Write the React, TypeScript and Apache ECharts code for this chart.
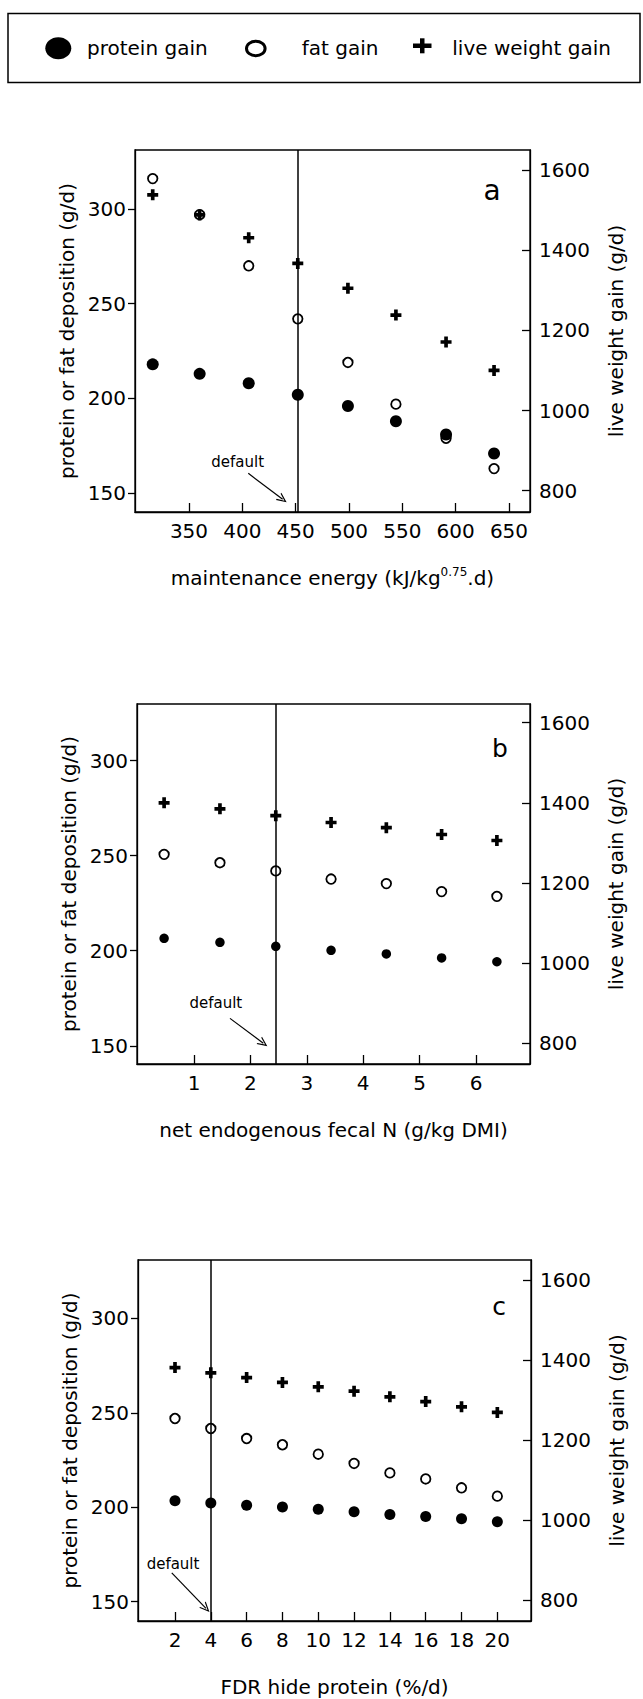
import React, { useEffect, useRef } from "react";
import * as echarts from "echarts";

// ---------- data ----------
const maintEnergy = [316, 360, 406, 452, 499, 544, 591, 636];
const aProtein = [218, 213, 208, 202, 196, 188, 181, 171];
const aFat = [316, 297, 270, 242, 219, 197, 179, 163];
const aLive = [1538, 1488, 1431, 1367, 1305, 1238, 1171, 1100];
const aDefault = 452;

const fecalN = [0.47, 1.46, 2.45, 3.43, 4.41, 5.39, 6.37];
const bProtein = [206.5, 204.4, 202.3, 200.2, 198.3, 196.2, 194.2];
const bFat = [250.7, 246.3, 242.0, 237.7, 235.3, 231.1, 228.6];
const bLive = [1400, 1385, 1368, 1351, 1338, 1321, 1306];
const bDefault = 2.45;

const fdrHide = [2, 4, 6, 8, 10, 12, 14, 16, 18, 20];
const cProtein = [203.4, 202.3, 201.1, 200.2, 199.0, 197.6, 196.2, 195.1, 193.9, 192.3];
const cFat = [247.0, 241.7, 236.4, 233.1, 228.1, 223.2, 218.2, 215.0, 210.3, 205.9];
const cLive = [1381, 1368, 1356, 1344, 1333, 1322, 1308, 1296, 1283, 1269];
const cDefault = 4;

const aXTicks = [350, 400, 450, 500, 550, 600, 650];
const bXTicks = [1, 2, 3, 4, 5, 6];
const cXTicks = [2, 4, 6, 8, 10, 12, 14, 16, 18, 20];
const leftTicks = [150, 200, 250, 300];
const rightTicks = [800, 1000, 1200, 1400, 1600];

const legendNames = ["protein gain", "fat gain", "live weight gain"];
const panelLetters = ["a", "b", "c"];
const defaultText = "default";

// ---------- layout ----------
const FONT = "DejaVu Sans";
const W = 643;
const H = 1699;
const PLUS = "path://M4,0 H8 V4 H12 V8 H8 V12 H4 V8 H0 V4 H4 Z";
const CHEVRON = "path://M0,10 L5,0 L10,10 L8.6,10 L5,2.8 L1.4,10 Z";

const panels = [
  {
    grid: { left: 135, top: 150, width: 395, height: 362 },
    x: { min: 299.4, max: 669.7, ticks: aXTicks },
    yl: { min: 140.1, max: 331.1 },
    yr: { min: 746.9, max: 1649.9 },
    xs: maintEnergy, protein: aProtein, fat: aFat, live: aLive, def: aDefault,
    name: "{t|maintenance energy (kJ/kg}{s|0.75}{t|.d)}",
    proteinSize: 12,
    textAt: [395.7, 166.3], arrowFrom: [405.6, 160.5], arrowTo: [437.8, 146.8],
    letter: { x: 492, y: 190, size: 28 },
  },
  {
    grid: { left: 137, top: 704, width: 393, height: 360 },
    x: { min: -0.0106, max: 6.957, ticks: bXTicks },
    yl: { min: 140.4, max: 329.8 },
    yr: { min: 748.3, max: 1646.7 },
    xs: fecalN, protein: bProtein, fat: bFat, live: bLive, def: bDefault,
    name: "{t|net endogenous fecal N (g/kg DMI)}",
    proteinSize: 9.5,
    textAt: [1.387, 172.3], arrowFrom: [1.638, 164.4], arrowTo: [2.229, 151.3],
    letter: { x: 500, y: 748, size: 25 },
  },
  {
    grid: { left: 138, top: 1260, width: 393, height: 361 },
    x: { min: -0.066, max: 21.88, ticks: cXTicks },
    yl: { min: 139.8, max: 330.9 },
    yr: { min: 747.5, max: 1650 },
    xs: fdrHide, protein: cProtein, fat: cFat, live: cLive, def: cDefault,
    name: "{t|FDR hide protein (%/d)}",
    proteinSize: 11,
    textAt: [1.89, 169.8], arrowFrom: [1.82, 165.3], arrowTo: [3.73, 146.5],
    letter: { x: 499, y: 1306, size: 25 },
  },
];

const lineStyle = { color: "#000", width: 1.3 };
const labelStyle = { color: "#000", fontSize: 20, fontFamily: FONT };
const plain = (v: number) => String(v);

export default function App() {
  const ref = useRef<HTMLDivElement>(null);

  useEffect(() => {
    document.body.style.margin = "0";
    document.body.style.background = "#fff";
    const chart = echarts.init(ref.current!, null, { renderer: "svg" });

    const grid: any[] = [];
    const xAxis: any[] = [];
    const yAxis: any[] = [];
    const series: any[] = [];
    const graphic: any[] = [];

    panels.forEach((p, i) => {
      grid.push({
        ...p.grid,
        show: true,
        borderColor: "#000",
        borderWidth: 1.3,
        backgroundColor: "transparent",
        containLabel: false,
      });
      xAxis.push({
        type: "value",
        gridIndex: i,
        min: p.x.min,
        max: p.x.max,
        axisLine: { show: true, lineStyle },
        axisTick: { show: true, inside: true, length: 9, customValues: p.x.ticks, lineStyle },
        axisLabel: { show: true, customValues: p.x.ticks, margin: 9, formatter: plain, ...labelStyle },
        splitLine: { show: false },
        name: p.name,
        nameLocation: "middle",
        nameGap: 54,
        nameTextStyle: {
          rich: {
            t: { fontSize: 20, fontFamily: FONT, color: "#000", lineHeight: 24 },
            s: { fontSize: 12, fontFamily: FONT, color: "#000", verticalAlign: "top", lineHeight: 14 },
          },
        },
      });
      yAxis.push({
        type: "value",
        gridIndex: i,
        position: "left",
        min: p.yl.min,
        max: p.yl.max,
        axisLine: { show: true, onZero: false, lineStyle },
        axisTick: { show: true, inside: false, length: 7, customValues: leftTicks, lineStyle },
        axisLabel: { show: true, customValues: leftTicks, margin: 9, formatter: plain, ...labelStyle },
        splitLine: { show: false },
        name: "protein or fat deposition (g/d)",
        nameLocation: "middle",
        nameRotate: 90,
        nameGap: 57,
        nameTextStyle: { ...labelStyle },
      });
      yAxis.push({
        type: "value",
        gridIndex: i,
        position: "right",
        min: p.yr.min,
        max: p.yr.max,
        axisLine: { show: true, onZero: false, lineStyle },
        axisTick: { show: true, inside: true, length: 8, customValues: rightTicks, lineStyle },
        axisLabel: { show: true, customValues: rightTicks, margin: 9, formatter: plain, ...labelStyle },
        splitLine: { show: false },
        name: "live weight gain (g/d)",
        nameLocation: "middle",
        nameRotate: 90,
        nameGap: 76,
        nameTextStyle: { ...labelStyle },
      });

      series.push({
        type: "scatter",
        name: legendNames[0],
        xAxisIndex: i,
        yAxisIndex: 2 * i,
        symbol: "circle",
        symbolSize: p.proteinSize,
        itemStyle: { color: "#000", opacity: 1 },
        data: p.xs.map((x, j) => [x, p.protein[j]]),
        z: 3,
        markLine: {
          silent: true,
          symbol: ["none", "none"],
          label: { show: false },
          lineStyle: { color: "#000", width: 1.5, type: "solid", opacity: 1 },
          data: [
            { xAxis: p.def },
            [
              { coord: p.arrowFrom, symbol: "none", lineStyle: { width: 1.2 } },
              { coord: p.arrowTo, symbol: CHEVRON, symbolSize: [9, 10] },
            ],
          ],
        },
        markPoint: {
          silent: true,
          symbol: "circle",
          symbolSize: 0,
          data: [
            {
              coord: p.textAt,
              label: {
                show: true,
                position: "inside",
                formatter: defaultText,
                color: "#000",
                fontSize: 15,
                fontFamily: FONT,
              },
            },
          ],
        },
      });
      series.push({
        type: "scatter",
        name: legendNames[1],
        xAxisIndex: i,
        yAxisIndex: 2 * i,
        symbol: "circle",
        symbolSize: 9.5,
        itemStyle: { color: "rgba(0,0,0,0)", borderColor: "#000", borderWidth: 1.8, opacity: 1 },
        data: p.xs.map((x, j) => [x, p.fat[j]]),
        z: 4,
      });
      series.push({
        type: "scatter",
        name: legendNames[2],
        xAxisIndex: i,
        yAxisIndex: 2 * i + 1,
        symbol: PLUS,
        symbolSize: 11,
        itemStyle: { color: "#000", opacity: 1 },
        data: p.xs.map((x, j) => [x, p.live[j]]),
        z: 5,
      });

      graphic.push({
        type: "text",
        x: p.letter.x,
        y: p.letter.y,
        style: {
          text: panelLetters[i],
          fill: "#000",
          fontSize: p.letter.size,
          fontFamily: FONT,
          align: "center",
          verticalAlign: "middle",
        },
      });
    });

    // legend box
    graphic.push(
      {
        type: "rect",
        shape: { x: 8, y: 13.5, width: 632, height: 69 },
        style: { fill: "none", stroke: "#000", lineWidth: 1.5 },
      },
      { type: "ellipse", shape: { cx: 58.3, cy: 48.3, rx: 13, ry: 11 }, style: { fill: "#000" } },
      {
        type: "text",
        x: 87,
        y: 48,
        style: { text: legendNames[0], fill: "#000", fontSize: 20, fontFamily: FONT, verticalAlign: "middle" },
      },
      {
        type: "ellipse",
        shape: { cx: 255.8, cy: 48.5, rx: 9.3, ry: 7.3 },
        style: { fill: "none", stroke: "#000", lineWidth: 3 },
      },
      {
        type: "text",
        x: 301.7,
        y: 48,
        style: { text: legendNames[1], fill: "#000", fontSize: 20, fontFamily: FONT, verticalAlign: "middle" },
      },
      { type: "rect", shape: { x: 413, y: 43.5, width: 18.5, height: 4.5 }, style: { fill: "#000" } },
      { type: "rect", shape: { x: 420, y: 38.3, width: 4.5, height: 15 }, style: { fill: "#000" } },
      {
        type: "text",
        x: 452.3,
        y: 48,
        style: { text: legendNames[2], fill: "#000", fontSize: 20, fontFamily: FONT, verticalAlign: "middle" },
      }
    );

    chart.setOption({
      animation: false,
      backgroundColor: "#fff",
      textStyle: { fontFamily: FONT },
      grid,
      xAxis,
      yAxis,
      series,
      graphic,
    });

    return () => chart.dispose();
  }, []);

  return <div ref={ref} style={{ width: W, height: H }} />;
}
